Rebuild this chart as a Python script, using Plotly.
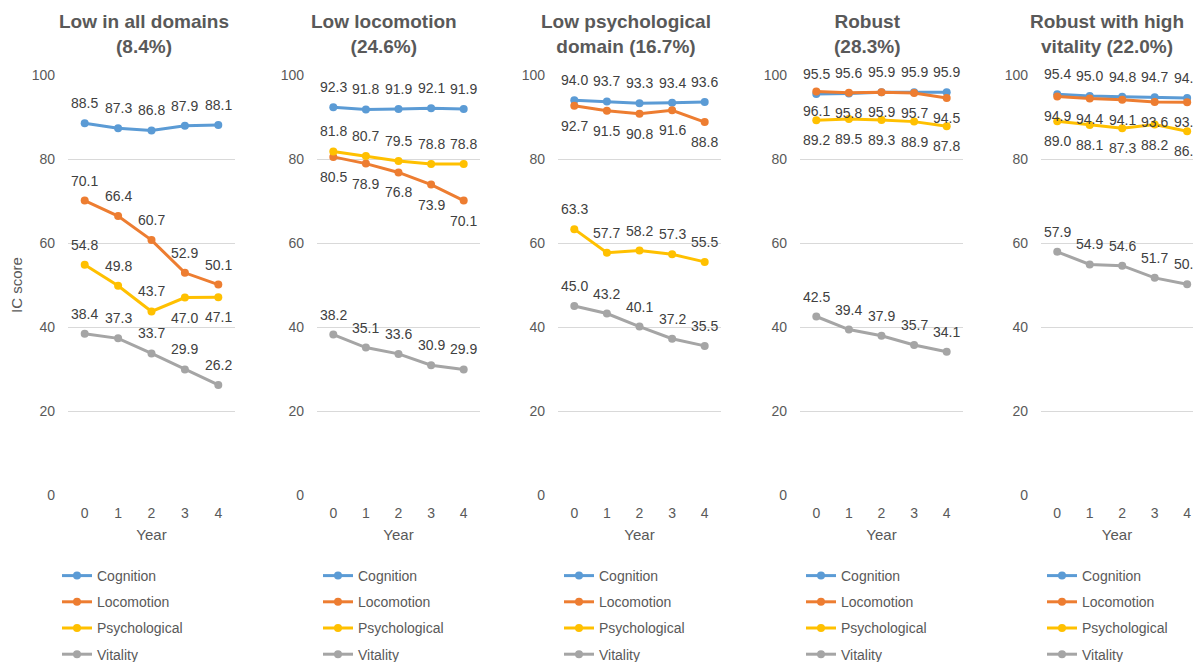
import plotly.graph_objects as go

# ---------------------------------------------------------------------------
# 数据
# ---------------------------------------------------------------------------

years = [0, 1, 2, 3, 4]
domains = ['Cognition', 'Locomotion', 'Psychological', 'Vitality']

panel_titles = [
    'Low in all domains<br>(8.4%)',
    'Low locomotion<br>(24.6%)',
    'Low psychological<br>domain (16.7%)',
    'Robust<br>(28.3%)',
    'Robust with high<br>vitality (22.0%)',
]

low_all = {
    'Cognition':     [88.5, 87.3, 86.8, 87.9, 88.1],
    'Locomotion':    [70.1, 66.4, 60.7, 52.9, 50.1],
    'Psychological': [54.8, 49.8, 43.7, 47.0, 47.1],
    'Vitality':      [38.4, 37.3, 33.7, 29.9, 26.2],
}
low_locomotion = {
    'Cognition':     [92.3, 91.8, 91.9, 92.1, 91.9],
    'Locomotion':    [80.5, 78.9, 76.8, 73.9, 70.1],
    'Psychological': [81.8, 80.7, 79.5, 78.8, 78.8],
    'Vitality':      [38.2, 35.1, 33.6, 30.9, 29.9],
}
low_psychological = {
    'Cognition':     [94.0, 93.7, 93.3, 93.4, 93.6],
    'Locomotion':    [92.7, 91.5, 90.8, 91.6, 88.8],
    'Psychological': [63.3, 57.7, 58.2, 57.3, 55.5],
    'Vitality':      [45.0, 43.2, 40.1, 37.2, 35.5],
}
robust = {
    'Cognition':     [95.5, 95.6, 95.9, 95.9, 95.9],
    'Locomotion':    [96.1, 95.8, 95.9, 95.7, 94.5],
    'Psychological': [89.2, 89.5, 89.3, 88.9, 87.8],
    'Vitality':      [42.5, 39.4, 37.9, 35.7, 34.1],
}
robust_high_vitality = {
    'Cognition':     [95.4, 95.0, 94.8, 94.7, 94.5],
    'Locomotion':    [94.9, 94.4, 94.1, 93.6, 93.5],
    'Psychological': [89.0, 88.1, 87.3, 88.2, 86.6],
    'Vitality':      [57.9, 54.9, 54.6, 51.7, 50.2],
}

panels = [low_all, low_locomotion, low_psychological, robust,
          robust_high_vitality]

# ---------------------------------------------------------------------------
# 样式
# ---------------------------------------------------------------------------

W, H = 1193, 662
FONT = 'Arial, Liberation Sans, sans-serif'
GREY = '#595959'
colors = {
    'Cognition': '#5B9BD5',
    'Locomotion': '#ED7D31',
    'Psychological': '#FFC000',
    'Vitality': '#A5A5A5',
}
# 绘图区像素位置（左、右）
x_px = [(68, 235), (317, 480), (558, 721), (800, 963), (1041, 1193)]
x_ranges = [[-0.5, 4.5]] * 4 + [[-0.5, 4.18]]
title_px = [144, 384, 626, 867, 1107]
legend_px = [62, 323, 564, 806, 1047]
# 数据标签放在点下方的 (序列: 点下标)
below = [
    {'Psychological': [3, 4]},
    {'Locomotion': years},
    {'Locomotion': years},
    {'Locomotion': years, 'Psychological': years},
    {'Locomotion': years, 'Psychological': years},
]

y_top, y_bot = 75, 495
y_dom = [(H - y_bot) / H, (H - y_top) / H]

fig = go.Figure()
annotations = []

for i, data in enumerate(panels):
    n = '' if i == 0 else str(i + 1)
    leg = 'legend' + n
    for d in domains:
        fig.add_trace(go.Scatter(
            x=years, y=data[d], name=d, mode='lines+markers',
            line=dict(color=colors[d], width=3),
            marker=dict(color=colors[d], size=8),
            xaxis='x' + n, yaxis='y' + n,
            legend=leg, legendgroup=f'{i}_{d}',
        ))
        low_idx = below[i].get(d, [])
        for k, (x, v) in enumerate(zip(years, data[d])):
            annotations.append(dict(
                x=x, y=v, xref='x' + n, yref='y' + n, text=f'{v:.1f}',
                showarrow=False, yshift=-20 if k in low_idx else 20,
                font=dict(family=FONT, size=14, color='#404040'),
            ))

    l, r = x_px[i]
    fig.update_layout(**{
        'xaxis' + n: dict(
            domain=[l / W, r / W], range=x_ranges[i], anchor='y' + n,
            tickvals=years, showgrid=False, zeroline=False, showline=False,
            ticks='', ticklabelstandoff=8,
            tickfont=dict(family=FONT, size=14, color=GREY),
            title=dict(text='Year', standoff=9,
                       font=dict(family=FONT, size=15, color=GREY)),
        ),
        'yaxis' + n: dict(
            domain=y_dom, range=[0, 100], anchor='x' + n,
            tickvals=[0, 20, 40, 60, 80, 100], showgrid=True,
            gridcolor='#D9D9D9', gridwidth=1, zeroline=False,
            showline=False, ticks='', ticklabelstandoff=12,
            tickfont=dict(family=FONT, size=14, color=GREY),
            title=dict(text='IC score' if i == 0 else '', standoff=5,
                       font=dict(family=FONT, size=15, color=GREY)),
        ),
        leg: dict(
            x=(legend_px[i] - 5) / W, xanchor='left',
            y=1 - 560 / H, yanchor='top',
            orientation='v', tracegroupgap=5, borderwidth=0,
            bgcolor='rgba(0,0,0,0)',
            font=dict(family=FONT, size=14, color=GREY),
        ),
    })

    annotations.append(dict(
        x=title_px[i] / W, y=1 - 34 / H, xref='paper', yref='paper',
        text=f'<b>{panel_titles[i]}</b>', showarrow=False,
        xanchor='center', yanchor='middle',
        font=dict(family=FONT, size=19, color=GREY),
    ))

fig.update_layout(
    width=W, height=H,
    margin=dict(l=0, r=0, t=0, b=0, autoexpand=False),
    plot_bgcolor='white', paper_bgcolor='white',
    annotations=annotations,
    showlegend=True,
)

# 去掉页面默认的 8px body 边距，让图从左上角开始
fig.write_html('out.html', config={'displayModeBar': False},
               post_script="document.body.style.margin='0';")
